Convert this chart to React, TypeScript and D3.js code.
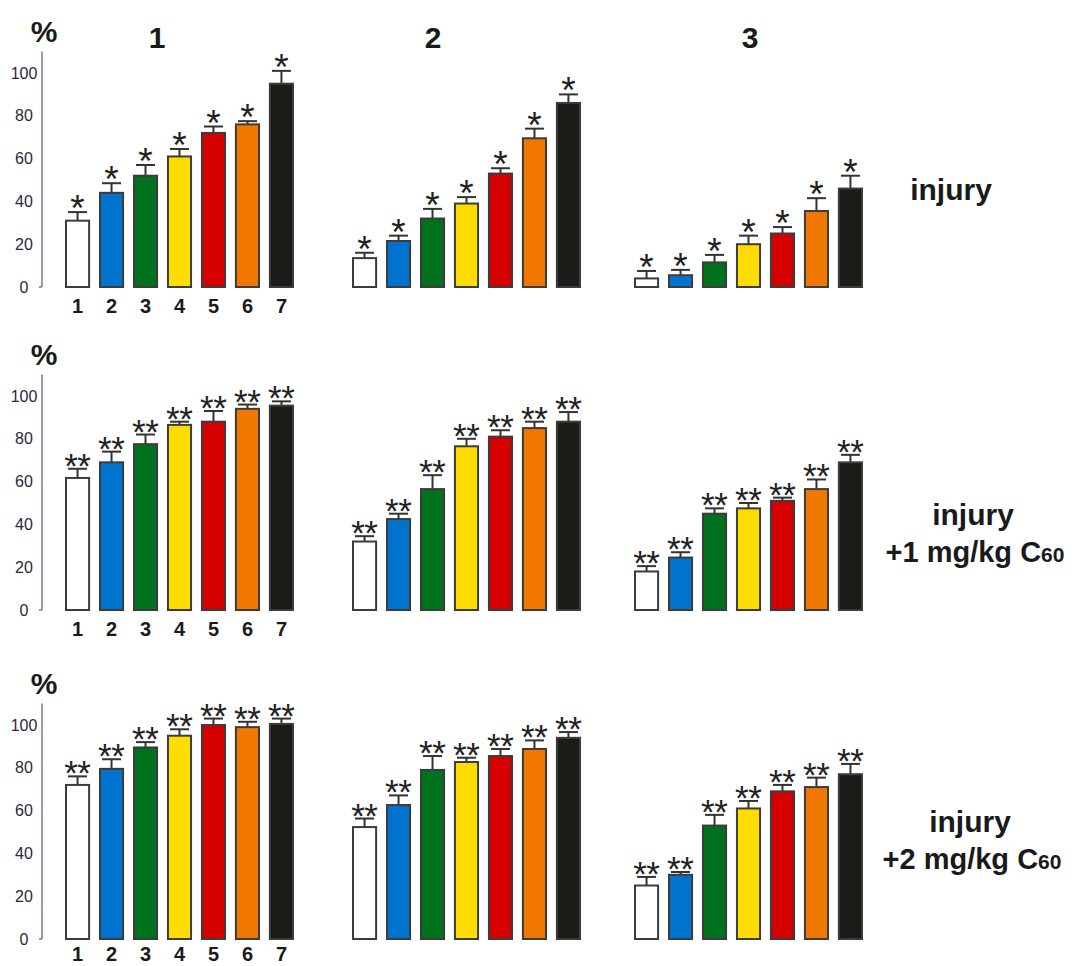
import React, { useEffect, useRef } from "react";
import * as d3 from "d3";

// groups 1..7 on every panel
const groups = ["1", "2", "3", "4", "5", "6", "7"];
const groupColors = ["#ffffff", "#0073cf", "#00711c", "#ffdc00", "#d50000", "#f07700", "#1d1b18"];
const panelTitles = ["1", "2", "3"];
const yTicks = [0, 20, 40, 60, 80, 100];

// row 1: injury
const injuryMeans = [
  [31, 44, 52, 61, 72, 76, 95],
  [13.5, 21.5, 32, 39, 53, 69.5, 86],
  [4, 5.5, 11.5, 20, 25, 35.5, 46],
];
const injuryErr = [
  [4, 4.5, 5, 3.5, 3, 1.5, 6],
  [2.5, 2.5, 4.5, 3, 2.5, 4.5, 4],
  [3.5, 2.5, 3.5, 4, 3, 6, 6],
];

// row 2: injury + 1 mg/kg C60
const c60LowMeans = [
  [61.7, 69, 77.5, 86.5, 88, 94, 95.5],
  [32, 42.5, 56.5, 76.5, 81, 85, 88],
  [18, 24.5, 45, 47.5, 51, 56.5, 69],
];
const c60LowErr = [
  [4.3, 5, 4.5, 1.5, 5, 2, 2],
  [2.5, 2.5, 6.5, 3.5, 3, 3, 4.5],
  [2.5, 2.5, 2.5, 2.5, 1.5, 4.5, 3.5],
];

// row 3: injury + 2 mg/kg C60
const c60HighMeans = [
  [72, 79.5, 89.5, 95, 100, 99, 100.5],
  [52.3, 62.6, 79, 82.7, 85.5, 88.8, 94],
  [25, 30, 53, 61, 69, 71, 77],
];
const c60HighErr = [
  [4, 4.5, 2.5, 3, 3, 2.5, 2.5],
  [4, 4.5, 6.5, 2, 3.3, 4, 2.7],
  [4, 1.3, 5, 3.5, 3, 4.4, 4.8],
];

// number of asterisks above bars in each row
const rowMarkCount = [1, 2, 2];
const rowLabelTop = ["injury", "injury", "injury"];
const rowLabelDose = [null, "+1 mg/kg C", "+2 mg/kg C"];
const doseSub = "60";

const FONT = "'Liberation Sans', Arial, Helvetica, sans-serif";

function renderChart(node: SVGSVGElement) {
  const svg = d3.select(node);
  svg.selectAll("*").remove();

  const rows = [
    { means: injuryMeans, err: injuryErr },
    { means: c60LowMeans, err: c60LowErr },
    { means: c60HighMeans, err: c60HighErr },
  ];

  const rowBase = [287, 610, 939];
  const panelX = [66, 353, 635];
  const panelW = 227;
  const axisX = 42;
  const titleX = [157, 433, 750];
  const labelPos = [
    { x: 951, y: 190 },
    { x: 973, y: 515 },
    { x: 970, y: 822 },
  ];

  // titles above the first row
  svg
    .selectAll("text.title")
    .data(panelTitles)
    .enter()
    .append("text")
    .attr("class", "title")
    .attr("x", (d, i) => titleX[i])
    .attr("y", 48)
    .attr("text-anchor", "middle")
    .attr("font-family", FONT)
    .attr("font-weight", "bold")
    .attr("font-size", 30)
    .attr("fill", "#1a1a1a")
    .text((d) => d);

  rows.forEach((row, r) => {
    const base = rowBase[r];
    const y = d3.scaleLinear().domain([0, 110]).range([base, base - 235.4]);
    const g = svg.append("g");

    // y axis
    g.append("line")
      .attr("x1", axisX)
      .attr("x2", axisX)
      .attr("y1", y(110))
      .attr("y2", y(0))
      .attr("stroke", "#7d7490")
      .attr("stroke-width", 1.5);
    g.append("line")
      .attr("x1", axisX - 3)
      .attr("x2", axisX)
      .attr("y1", y(0))
      .attr("y2", y(0))
      .attr("stroke", "#7d7490")
      .attr("stroke-width", 1.5);
    g.selectAll("text.ytick")
      .data(yTicks)
      .enter()
      .append("text")
      .attr("class", "ytick")
      .attr("x", 24)
      .attr("y", (d) => y(d))
      .attr("dy", "0.35em")
      .attr("text-anchor", "middle")
      .attr("font-family", FONT)
      .attr("font-size", 16)
      .attr("fill", "#2b2838")
      .text((d) => d);

    g.append("text")
      .attr("x", 44)
      .attr("y", y(110) - 10)
      .attr("text-anchor", "middle")
      .attr("font-family", FONT)
      .attr("font-weight", "bold")
      .attr("font-size", 30)
      .attr("fill", "#1a1a1a")
      .text("%");

    row.means.forEach((means, p) => {
      const x = d3
        .scaleBand()
        .domain(groups)
        .range([panelX[p], panelX[p] + panelW])
        .paddingInner(0.32)
        .paddingOuter(0);
      const bw = x.bandwidth();
      const pg = g.append("g");

      const items = means.map((m, i) => ({ key: groups[i], mean: m, err: row.err[p][i], color: groupColors[i] }));

      // error bars
      pg.selectAll("line.err")
        .data(items)
        .enter()
        .append("line")
        .attr("class", "err")
        .attr("x1", (d) => x(d.key)! + bw / 2)
        .attr("x2", (d) => x(d.key)! + bw / 2)
        .attr("y1", (d) => y(d.mean))
        .attr("y2", (d) => y(d.mean + d.err))
        .attr("stroke", "#333")
        .attr("stroke-width", 2);
      pg.selectAll("line.cap")
        .data(items)
        .enter()
        .append("line")
        .attr("class", "cap")
        .attr("x1", (d) => x(d.key)! + bw / 2 - 9.5)
        .attr("x2", (d) => x(d.key)! + bw / 2 + 9.5)
        .attr("y1", (d) => y(d.mean + d.err))
        .attr("y2", (d) => y(d.mean + d.err))
        .attr("stroke", "#333")
        .attr("stroke-width", 2);

      pg.selectAll("rect")
        .data(items)
        .enter()
        .append("rect")
        .attr("x", (d) => x(d.key)!)
        .attr("y", (d) => y(d.mean))
        .attr("width", bw)
        .attr("height", (d) => y(0) - y(d.mean))
        .attr("fill", (d) => d.color)
        .attr("stroke", "#3c3c3c")
        .attr("stroke-width", 2);

      // significance marks, one text per asterisk
      const n = rowMarkCount[r];
      const offsets = n === 1 ? [0] : [-6.6, 6.6];
      offsets.forEach((off) => {
        pg.selectAll(null)
          .data(items)
          .enter()
          .append("text")
          .attr("x", (d) => x(d.key)! + bw / 2 + off)
          .attr("y", (d) => y(d.mean + d.err) + 9)
          .attr("text-anchor", "middle")
          .attr("font-family", FONT)
          .attr("font-size", n === 1 ? 37 : 35)
          .attr("fill", "#222")
          .text("*");
      });

      if (p === 0) {
        pg.selectAll("text.cat")
          .data(items)
          .enter()
          .append("text")
          .attr("class", "cat")
          .attr("x", (d) => x(d.key)! + bw / 2)
          .attr("y", Math.min(y(0) + 26, 961))
          .attr("text-anchor", "middle")
          .attr("font-family", FONT)
          .attr("font-weight", "bold")
          .attr("font-size", 20)
          .attr("fill", "#1a1a1a")
          .text((d) => d.key);
      }
    });

    // row label on the right
    const lp = labelPos[r];
    const dose = rowLabelDose[r];
    g.append("text")
      .attr("x", lp.x)
      .attr("y", lp.y + 10)
      .attr("text-anchor", "middle")
      .attr("font-family", FONT)
      .attr("font-weight", "bold")
      .attr("font-size", 30)
      .attr("fill", "#1a1a1a")
      .text(rowLabelTop[r]);
    if (dose) {
      const t = g
        .append("text")
        .attr("x", lp.x + 2)
        .attr("y", lp.y + 47)
        .attr("text-anchor", "middle")
        .attr("font-family", FONT)
        .attr("font-weight", "bold")
        .attr("font-size", 29)
        .attr("fill", "#1a1a1a");
      t.append("tspan").text(dose);
      t.append("tspan").attr("font-size", 21).text(doseSub);
    }
  });
}

export default function App() {
  const ref = useRef<SVGSVGElement>(null);
  useEffect(() => {
    if (ref.current) renderChart(ref.current);
  }, []);
  return (
    <svg
      ref={ref}
      width={1074}
      height={966}
      style={{ position: "absolute", left: 0, top: 0, background: "#fff" }}
    />
  );
}
